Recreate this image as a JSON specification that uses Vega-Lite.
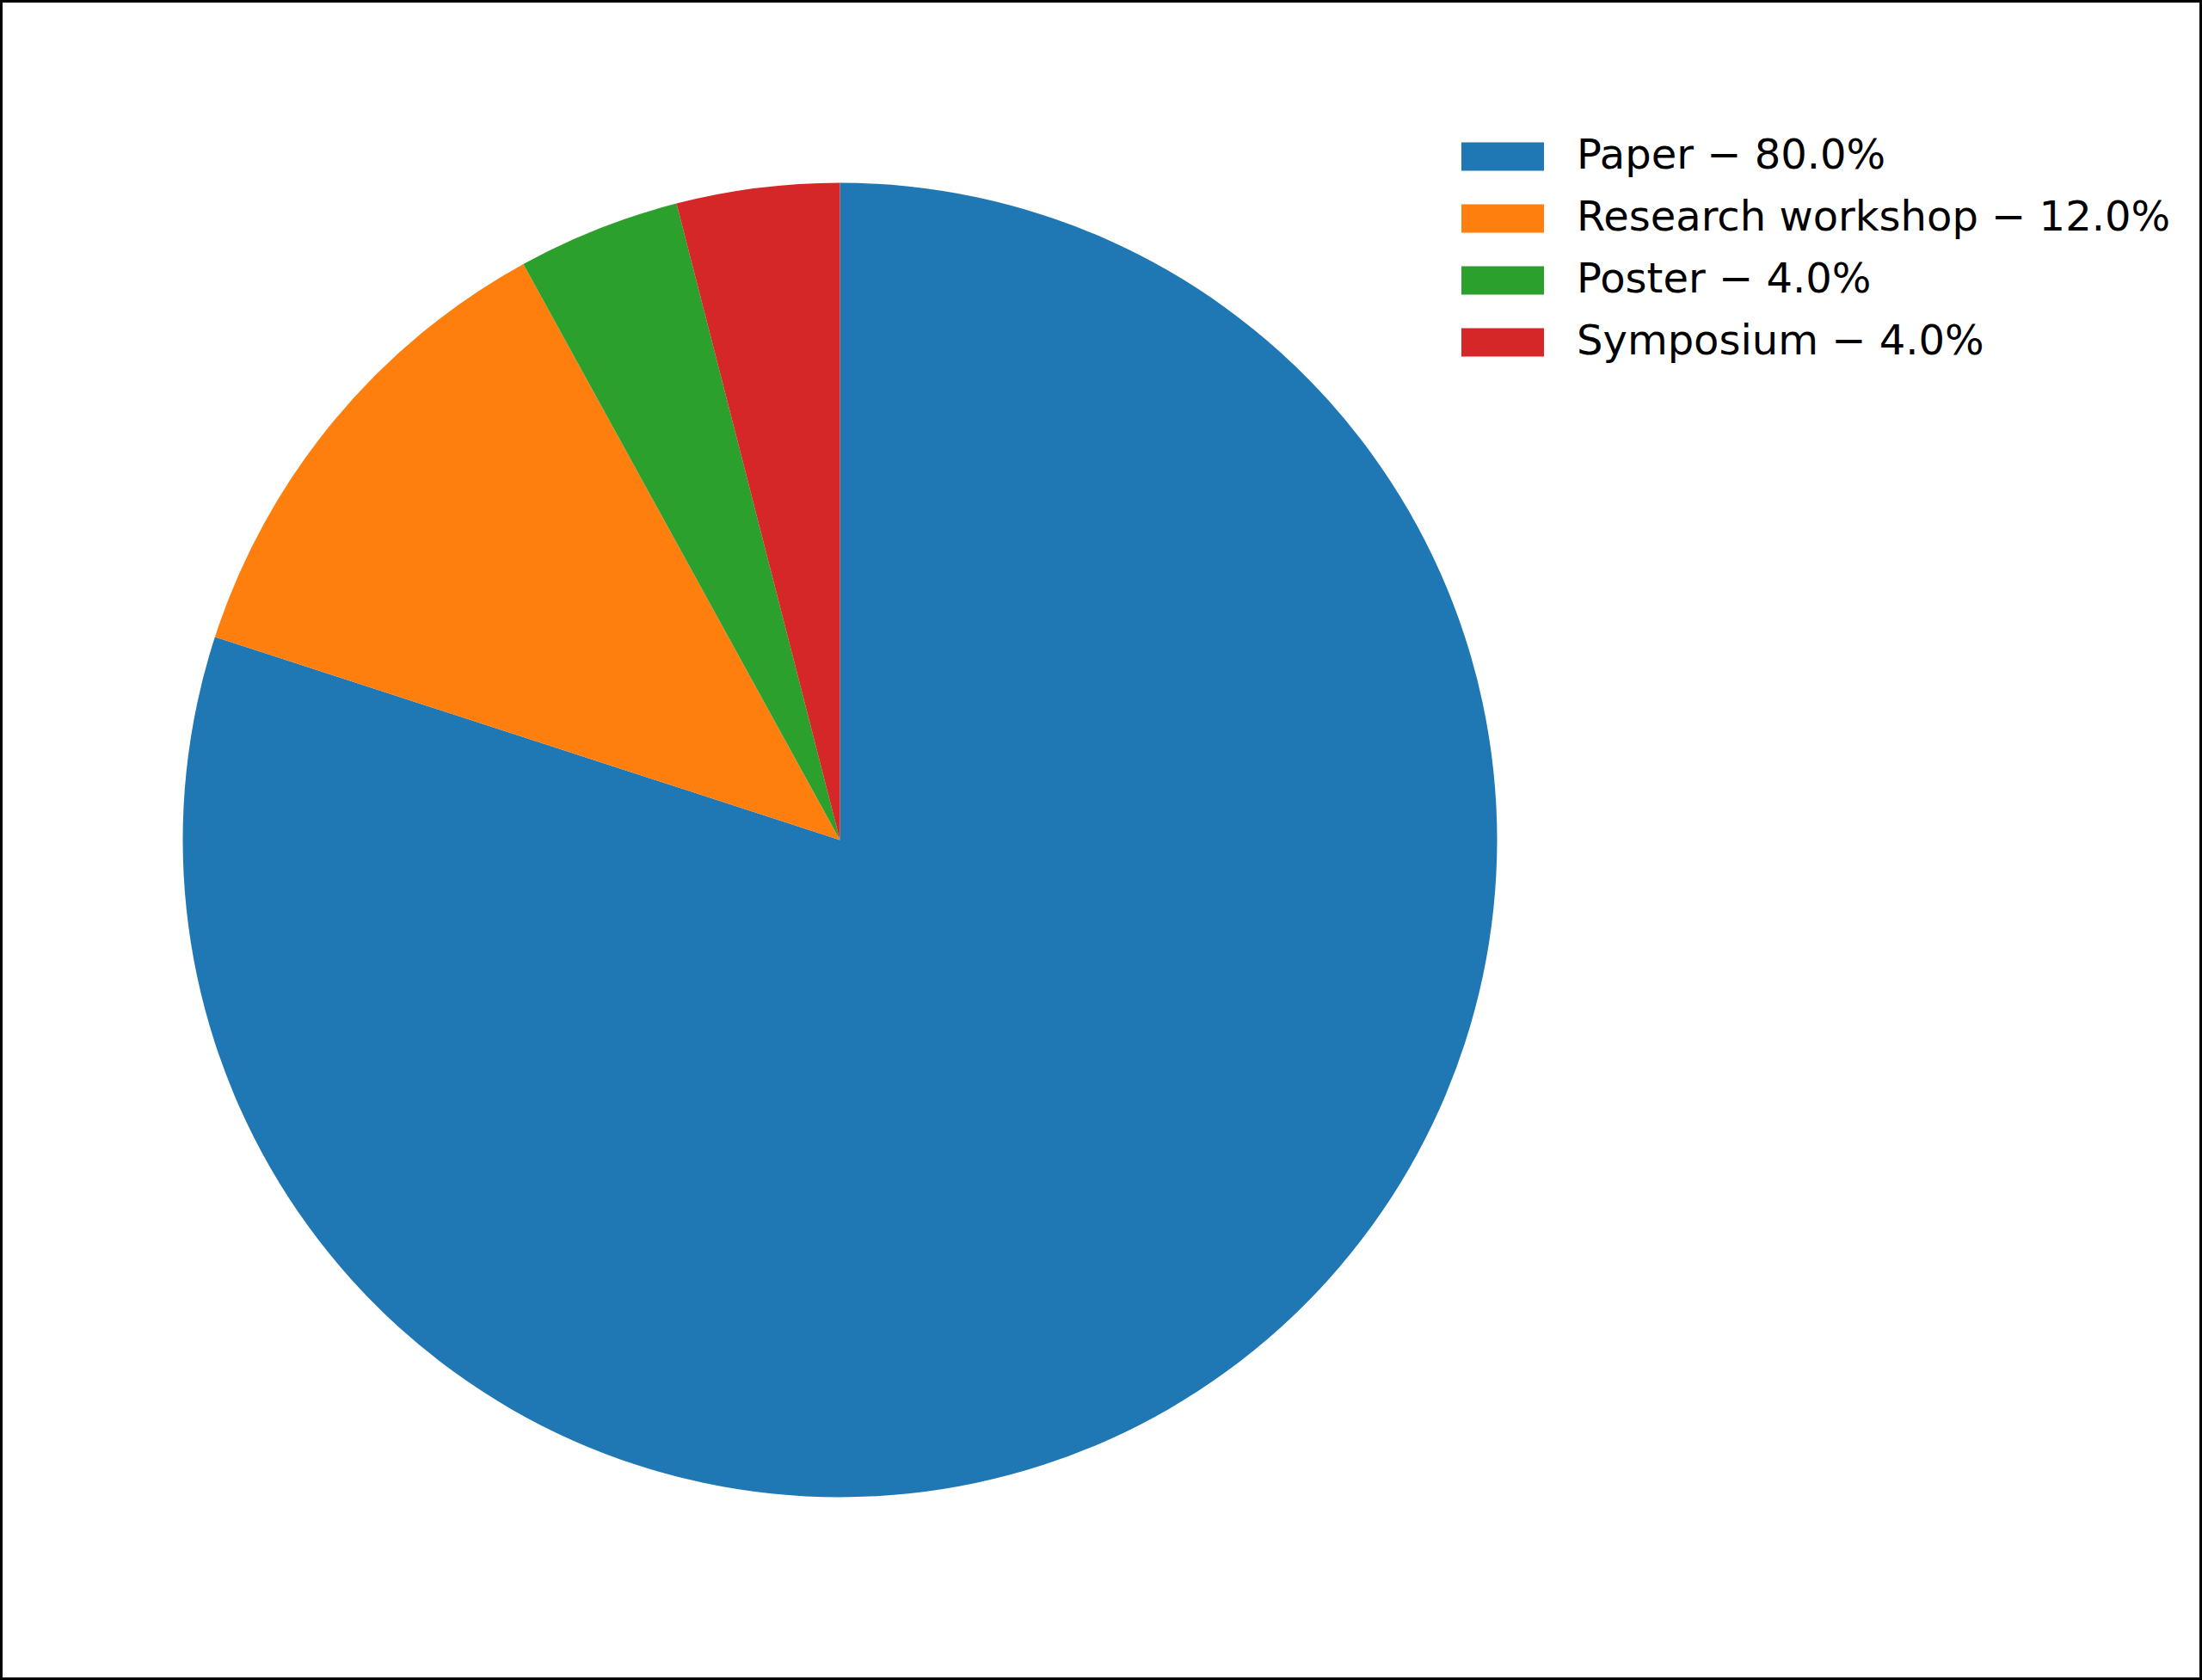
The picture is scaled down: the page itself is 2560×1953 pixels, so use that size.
{
  "$schema": "https://vega.github.io/schema/vega-lite/v6.json",
  "autosize": {"type": "fit", "contains": "padding"},
  "width": 2560,
  "height": 1953,
  "padding": 0,
  "background": "white",
  "view": {"stroke": "black", "strokeWidth": 6, "fill": "white"},
  "config": {
    "view": {"stroke": "black", "strokeWidth": 6},
    "font": "DejaVu Sans"
  },
  "data": {
    "values": [
      {"label": "Paper − 80.0%", "percent": 80, "rank": 1},
      {"label": "Research workshop − 12.0%", "percent": 12, "rank": 2},
      {"label": "Poster − 4.0%", "percent": 4, "rank": 3},
      {"label": "Symposium − 4.0%", "percent": 4, "rank": 4}
    ]
  },
  "mark": {"type": "arc", "outerRadius": 764, "x": {"expr": "height/2"}, "y": {"expr": "height/2"}},
  "encoding": {
    "theta": {"field": "percent", "type": "quantitative", "stack": true},
    "order": {"field": "rank", "type": "quantitative"},
    "color": {
      "field": "label",
      "type": "nominal",
      "sort": ["Paper − 80.0%", "Research workshop − 12.0%", "Poster − 4.0%", "Symposium − 4.0%"],
      "scale": {
        "domain": ["Paper − 80.0%", "Research workshop − 12.0%", "Poster − 4.0%", "Symposium − 4.0%"],
        "range": ["#1f77b4", "#ff7f0e", "#2ca02c", "#d62728"]
      },
      "legend": {
        "title": null,
        "orient": "none",
        "legendX": 1699,
        "legendY": 134,
        "symbolType": "M-1,-0.344H1V0.344H-1Z",
        "symbolSize": 9216,
        "symbolStrokeWidth": 0,
        "symbolOpacity": 1,
        "labelFontSize": 48,
        "labelFont": "DejaVu Sans",
        "labelColor": "black",
        "labelOffset": 38,
        "labelLimit": 0,
        "rowPadding": -40,
        "padding": 0
      }
    }
  }
}
